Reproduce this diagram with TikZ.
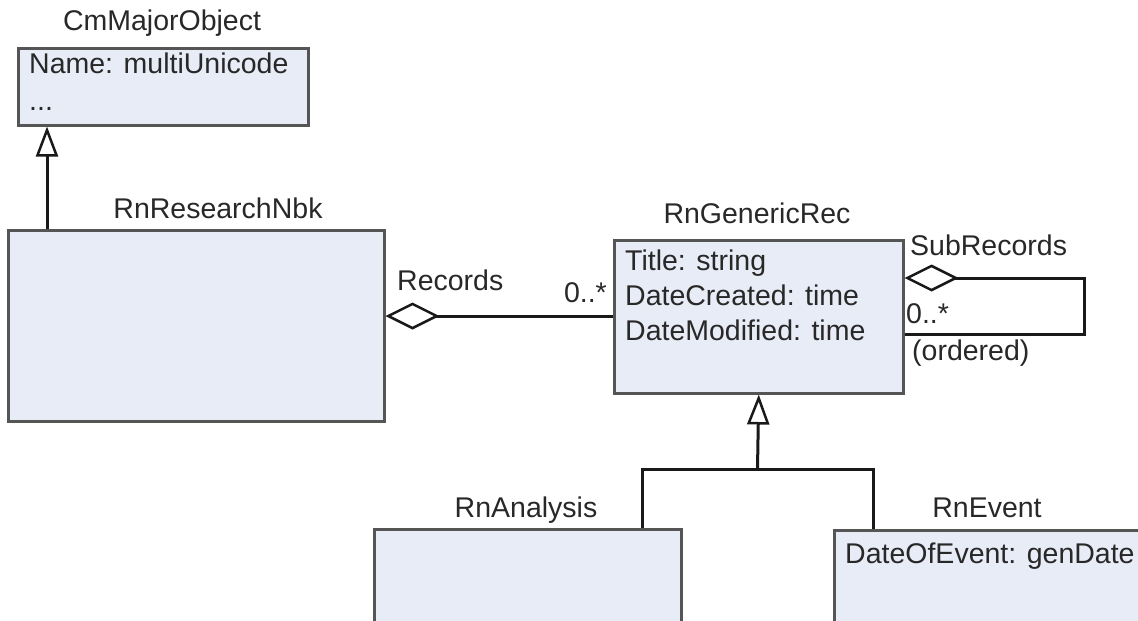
\documentclass[tikz,border=0pt]{standalone}
\usepackage{fontspec}
\setmainfont{Liberation Sans}
\usetikzlibrary{arrows.meta}
\definecolor{boxfill}{RGB}{232,236,246}
\definecolor{boxline}{RGB}{85,85,85}
\definecolor{txt}{RGB}{40,40,40}
\definecolor{conncol}{RGB}{25,25,25}
\begin{document}
\begin{tikzpicture}[x=1pt,y=-1pt,
  cls/.style={draw=boxline, fill=boxfill, line width=2.5pt, anchor=north west, inner sep=0pt},
  lbl/.style={font=\fontsize{28.5}{34}\selectfont, text=txt, inner sep=0pt},
  conn/.style={draw=conncol, line width=3pt},
  gen/.style={conn, -{Triangle[length=30pt,width=22pt,fill=white,line width=2.5pt]}},
  agg/.style={conn, {Diamond[length=54pt,width=27pt,fill=white,line width=2.5pt]}-}]
\useasboundingbox (0,0) rectangle (1138,621);
\clip (0,0) rectangle (1138,621);

% CmMajorObject
\node[cls, minimum width=290pt, minimum height=77pt] (cm) at (17,47) {};
\node[lbl, anchor=base] (cmT) at (162,30) {CmMajorObject};
\node[lbl, anchor=base west] (cmA1) at (29,73) {Name: multiUnicode};
\node[lbl, anchor=base west] (cmA2) at (29,110) {...};

% RnResearchNbk
\node[cls, minimum width=376pt, minimum height=191pt] (rnb) at (7,229) {};
\node[lbl, anchor=base] (rnbT) at (218,218) {RnResearchNbk};

% RnGenericRec
\node[cls, minimum width=289pt, minimum height=153pt] (rec) at (613,239) {};
\node[lbl, anchor=base] (recT) at (757,223) {RnGenericRec};
\node[lbl, anchor=base west] (recA1) at (625,270) {Title: string};
\node[lbl, anchor=base west] (recA2) at (625,305) {DateCreated: time};
\node[lbl, anchor=base west] (recA3) at (625,340) {DateModified: time};

% RnAnalysis
\node[cls, minimum width=307pt, minimum height=120pt] (ana) at (373,528) {};
\node[lbl, anchor=base] (anaT) at (526,517) {RnAnalysis};

% RnEvent
\node[cls, minimum width=340pt, minimum height=120pt] (evt) at (833,529) {};
\node[lbl, anchor=base] (evtT) at (987,517) {RnEvent};
\node[lbl, anchor=base west] (evtA1) at (845,563) {DateOfEvent: genDate};

% labels
\node[lbl, anchor=base west] (recL) at (397,290) {Records};
\node[lbl, anchor=base east] (recM) at (607,302) {0..*};
\node[lbl, anchor=base west] (subL) at (910,255) {SubRecords};
\node[lbl, anchor=base west] (subM) at (906,323) {0..*};
\node[lbl, anchor=base west] (subO) at (912,360) {(ordered)};

% connectors
\draw[gen] ([xshift=40pt]rnb.north west) -- ([xshift=30pt]cm.south west);
\draw[agg] (rnb.east |- 0,316) -- (rec.west |- 0,316);
\coordinate (l1) at (1084,278);
\coordinate (l2) at (1084,334);
\draw[agg] (rec.east |- l1) -- (l1) -- (l2) -- (rec.east |- l2);
\coordinate (j) at (757.5,469);
\draw[gen] (j) -- (rec.south);
\draw[conn] ([xshift=269pt]ana.north west) |- (j);
\draw[conn] ([xshift=40pt]evt.north west) |- (j);
\end{tikzpicture}
\end{document}
